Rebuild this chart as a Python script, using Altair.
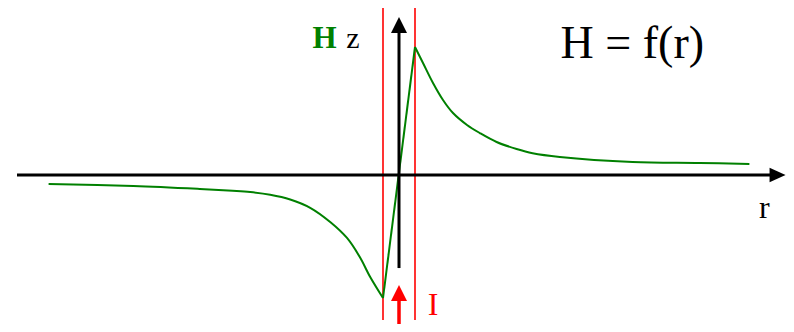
import altair as alt
import pandas as pd

# ---- data (r in units of the wire radius a, H normalised to its peak) ----
curve_r = [-21.9, -16.6, -12.45, -10.4, -9.3, -8.05, -6.8, -5.55, -4.3, -3.25, -2.45, -1.8, -1.0,
           1.0, 1.5, 2.125, 2.75, 3.375, 4.25, 5.05, 6.1, 7.35, 8.35, 10.05, 14.6, 18.8, 21.9]
curve_H = [-0.070, -0.086, -0.109, -0.123, -0.133, -0.154, -0.191, -0.256, -0.367, -0.492, -0.641, -0.797, -0.961,
           1.000, 0.875, 0.719, 0.586, 0.484, 0.391, 0.328, 0.258, 0.203, 0.170, 0.141, 0.102, 0.094, 0.086]

wire_edges = [-1.0, 1.0]          # red lines: surface of the conductor
wire_span = [1.31, -1.133]         # vertical extent of the red lines

r_axis = [-23.875, 23.2]           # horizontal axis shaft (r)
r_head = [23.66]                   # arrow head centre
z_axis = [-0.727, 1.11]            # vertical axis shaft (H z)
z_head = [1.172]
I_axis = [-1.17, -0.984]           # current arrow shaft
I_head = [-0.922]

labels_text = ["H", "z", "H = f(r)", "r", "I"]
labels_r = [-5.4, -3.3, 10.1, 22.5, 1.8]
labels_H = [0.992, 0.992, 0.914, -0.336, -1.094]
labels_color = ["#008000", "#000000", "#000000", "#000000", "#ff0000"]
labels_size = [31, 30, 46, 32, 32]
labels_weight = ["bold", "normal", "normal", "normal", "normal"]

X_DOMAIN = [-24.4375, 24.1875]
Y_DOMAIN = [-1.1641, 1.3047]
W, H = 778, 316

# ---- build tables ----
pts = list(zip(curve_r, curve_H))
rows = []
for seg, cond in [("left", lambda r: r <= -1.0), ("inner", lambda r: -1.0 <= r <= 1.0),
                  ("right", lambda r: r >= 1.0)]:
    for r, h in pts:
        if cond(r):
            rows.append({"r": r, "H": h, "seg": seg})
curve_df = pd.DataFrame(rows)

xs = alt.Scale(domain=X_DOMAIN, nice=False, zero=False)
ys = alt.Scale(domain=Y_DOMAIN, nice=False, zero=False)
X = lambda f="r": alt.X(f"{f}:Q", scale=xs, axis=None)
Y = lambda f="H": alt.Y(f"{f}:Q", scale=ys, axis=None)

curve = alt.Chart(curve_df).mark_line(color="#008000", strokeWidth=2, interpolate="catmull-rom").encode(
    x=X(), y=Y(), detail="seg:N", order="r:Q")

edges = alt.Chart(pd.DataFrame({"r": wire_edges, "H": [wire_span[0]] * 2, "H2": [wire_span[1]] * 2})
                  ).mark_rule(color="#ff0000", strokeWidth=1.6).encode(x=X(), y=Y(), y2="H2:Q")

r_shaft = alt.Chart(pd.DataFrame({"r": [r_axis[0]], "r2": [r_axis[1]], "H": [0.0]})
                    ).mark_rule(color="#000000", strokeWidth=3).encode(x=X(), x2="r2:Q", y=Y())
r_tip = alt.Chart(pd.DataFrame({"r": r_head, "H": [0.0]})).mark_point(
    shape="M-1,-0.9L1,0L-1,0.9Z", filled=True, size=256, opacity=1, color="#000000", strokeWidth=0
).encode(x=X(), y=Y())

z_shaft = alt.Chart(pd.DataFrame({"r": [0.0], "H": [z_axis[0]], "H2": [z_axis[1]]})
                    ).mark_rule(color="#000000", strokeWidth=3).encode(x=X(), y=Y(), y2="H2:Q")
z_tip = alt.Chart(pd.DataFrame({"r": [0.0], "H": z_head})).mark_point(
    shape="M-1,1L0,-1L1,1Z", filled=True, size=256, opacity=1, color="#000000", strokeWidth=0
).encode(x=X(), y=Y())

I_shaft = alt.Chart(pd.DataFrame({"r": [0.0], "H": [I_axis[0]], "H2": [I_axis[1]]})
                    ).mark_rule(color="#ff0000", strokeWidth=3.5).encode(x=X(), y=Y(), y2="H2:Q")
I_tip = alt.Chart(pd.DataFrame({"r": [0.0], "H": I_head})).mark_point(
    shape="M-1,1L0,-1L1,1Z", filled=True, size=256, opacity=1, color="#ff0000", strokeWidth=0
).encode(x=X(), y=Y())

lab_df = pd.DataFrame({"t": labels_text, "r": labels_r, "H": labels_H, "c": labels_color,
                       "s": labels_size, "w": labels_weight})
text_layers = []
for _, row in lab_df.iterrows():
    text_layers.append(
        alt.Chart(pd.DataFrame([row])).mark_text(
            font="Liberation Serif", align="left", baseline="alphabetic",
            fontSize=int(row["s"]), fontWeight=row["w"], color=row["c"]
        ).encode(x=X(), y=Y(), text="t:N")
    )

chart = alt.layer(edges, curve, r_shaft, r_tip, z_shaft, z_tip, I_shaft, I_tip, *text_layers).properties(
    width=W, height=H, padding=0, autosize=alt.AutoSizeParams(type="none")
).configure_view(stroke=None)

chart.save("out.html", embed_options={"renderer": "svg", "actions": False})
